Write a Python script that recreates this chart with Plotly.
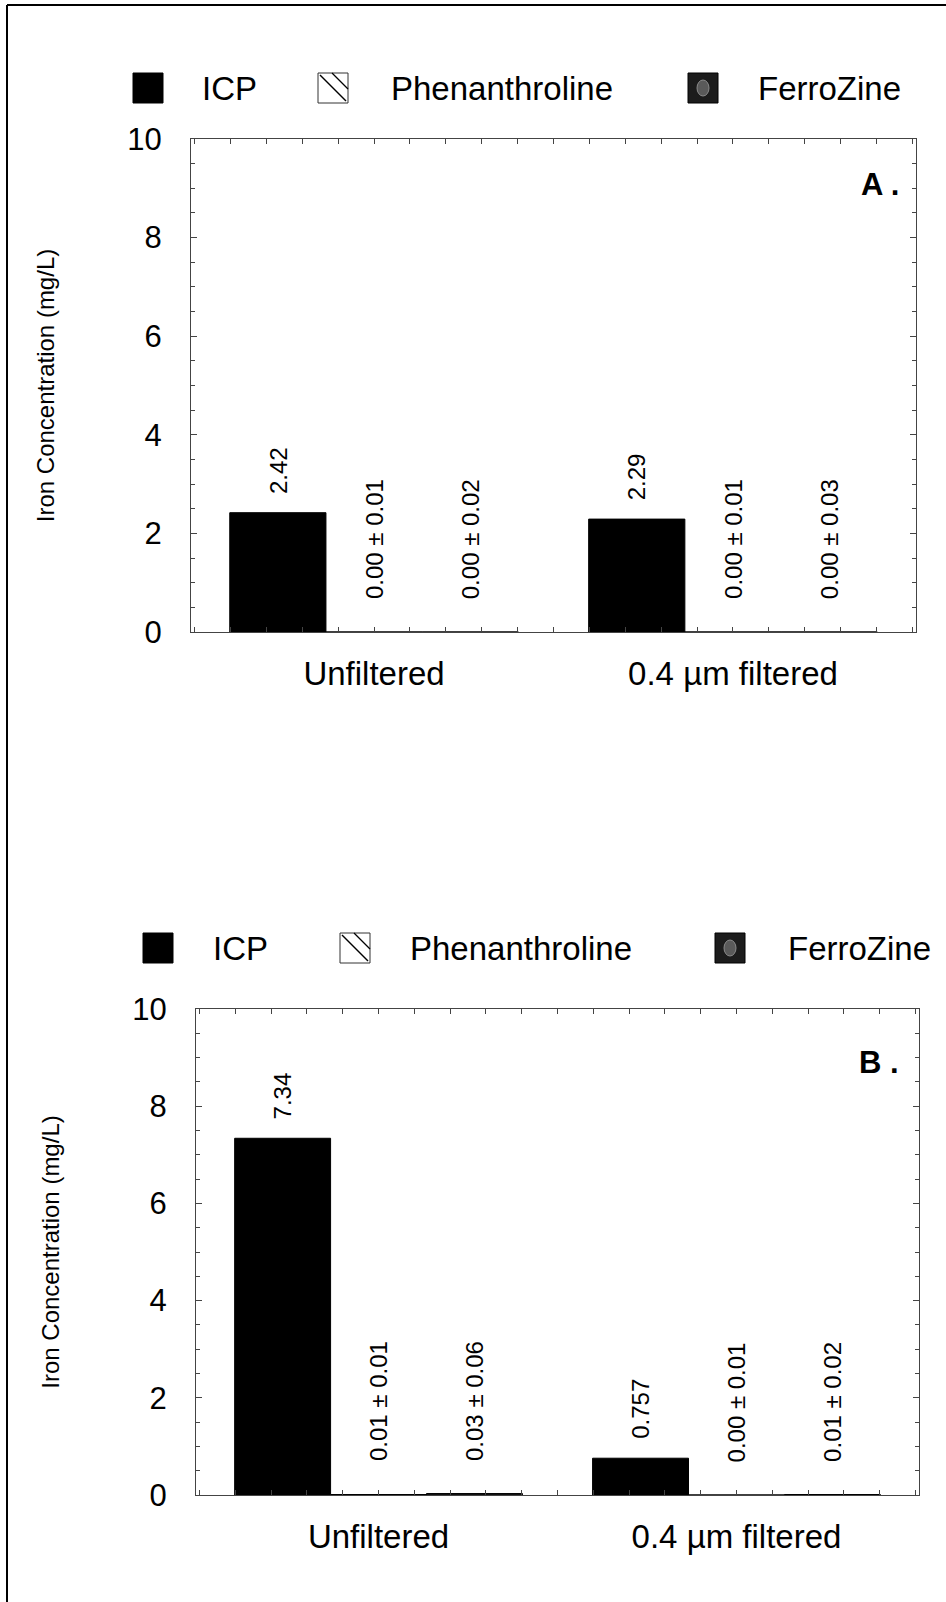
import plotly.graph_objects as go

# ---------------- data ----------------
categories = ["Unfiltered", "0.4 \u00b5m filtered"]
series_names = ["ICP", "Phenanthroline", "FerroZine"]

# Panel A
a_icp = [2.42, 2.29]
a_phen = [0.00, 0.00]
a_phen_sd = [0.01, 0.01]
a_ferro = [0.00, 0.00]
a_ferro_sd = [0.02, 0.03]

# Panel B
b_icp = [7.34, 0.757]
b_phen = [0.01, 0.00]
b_phen_sd = [0.01, 0.01]
b_ferro = [0.03, 0.01]
b_ferro_sd = [0.06, 0.02]

y_ticks = [0, 2, 4, 6, 8, 10]
panel_letters = ["A .", "B ."]

# ---------------- layout helpers ----------------
W, H = 946, 1602
FONT = "Liberation Sans, Arial, Helvetica, sans-serif"


def px(x):
    return x / W


def py(y):
    return 1 - y / H


BARGAP = 0.196
BW = (1 - BARGAP) / 3
positions = list(range(len(categories)))

styles = [
    dict(color="black", line=dict(color="black", width=1)),
    dict(color="white", line=dict(color="black", width=1),
         pattern=dict(shape="\\", fgcolor="black", bgcolor="white", size=10, solidity=0.15)),
    dict(color="#222222", line=dict(color="black", width=1),
         pattern=dict(shape=".", fgcolor="#777777", bgcolor="#222222", size=5, solidity=0.3)),
]

panels = [
    dict(vals=[a_icp, a_phen, a_ferro], sds=[None, a_phen_sd, a_ferro_sd],
         xdom=[px(191), px(916)], ydom=[py(632), py(139)],
         legend_y=88, legend_x=[(133, 200), (318, 389), (688, 756)],
         letter_xy=(901, 184)),
    dict(vals=[b_icp, b_phen, b_ferro], sds=[None, b_phen_sd, b_ferro_sd],
         xdom=[px(196), px(919)], ydom=[py(1495), py(1009)],
         legend_y=948, legend_x=[(143, 211), (340, 408), (715, 786)],
         letter_xy=(901, 1062)),
]

fig = go.Figure()
annotations = []
shapes = []

for p, panel in enumerate(panels):
    xa = "x" if p == 0 else "x2"
    ya = "y" if p == 0 else "y2"
    for j, name in enumerate(series_names):
        fig.add_trace(go.Bar(
            x=positions, y=panel["vals"][j], name=name,
            marker=styles[j], xaxis=xa, yaxis=ya, showlegend=False,
            offsetgroup=str(j),
        ))
        # value labels (rotated)
        for i, v in enumerate(panel["vals"][j]):
            if panel["sds"][j] is None:
                txt = str(v)
                shift = 17
            else:
                txt = f"{v:.2f} \u00b1 {panel['sds'][j][i]:.2f}"
                shift = 31
            annotations.append(dict(
                x=positions[i] + (j - 1) * BW, y=v, xref=xa, yref=ya,
                text=txt, textangle=-90, showarrow=False,
                xanchor="center", yanchor="bottom", yshift=shift,
                font=dict(family=FONT, size=24, color="black"),
            ))

    # panel letter
    lx, ly = panel["letter_xy"]
    annotations.append(dict(
        x=px(lx), y=py(ly), xref="paper", yref="paper", text=f"<b>{panel_letters[p]}</b>",
        showarrow=False, xanchor="right", yanchor="middle",
        font=dict(family=FONT, size=31, color="black"),
    ))

    # manual legend (large square swatches like the original)
    ly = panel["legend_y"]
    for j, name in enumerate(series_names):
        sx, tx = panel["legend_x"][j]
        x0, x1 = px(sx), px(sx + 30)
        y0, y1 = py(ly + 15), py(ly - 15)
        if j == 0:
            shapes.append(dict(type="rect", xref="paper", yref="paper", x0=x0, x1=x1, y0=y0, y1=y1,
                               fillcolor="black", line=dict(color="black", width=1)))
        elif j == 1:
            shapes.append(dict(type="rect", xref="paper", yref="paper", x0=x0, x1=x1, y0=y0, y1=y1,
                               fillcolor="white", line=dict(color="#333333", width=1)))
            shapes.append(dict(type="line", xref="paper", yref="paper",
                               x0=px(sx + 2), y0=py(ly - 13), x1=px(sx + 28), y1=py(ly + 13),
                               line=dict(color="black", width=1.5)))
            shapes.append(dict(type="line", xref="paper", yref="paper",
                               x0=px(sx + 14), y0=py(ly - 15), x1=px(sx + 30), y1=py(ly + 1),
                               line=dict(color="black", width=1.2)))
        else:
            shapes.append(dict(type="rect", xref="paper", yref="paper", x0=x0, x1=x1, y0=y0, y1=y1,
                               fillcolor="#1c1c1c", line=dict(color="black", width=1)))
            shapes.append(dict(type="circle", xref="paper", yref="paper",
                               x0=px(sx + 9), x1=px(sx + 21), y0=py(ly + 8), y1=py(ly - 8),
                               fillcolor="#5a5a5a", line=dict(color="#8a8a8a", width=1)))
        annotations.append(dict(
            x=px(tx), y=py(ly), xref="paper", yref="paper", text=name, showarrow=False,
            xanchor="left", yanchor="middle",
            font=dict(family=FONT, size=33, color="black"),
        ))

# outer frame of the figure
shapes.append(dict(type="line", xref="paper", yref="paper", x0=px(7), x1=px(7), y0=py(5), y1=py(H + 5),
                   line=dict(color="black", width=2)))
shapes.append(dict(type="line", xref="paper", yref="paper", x0=px(7), x1=px(W + 5), y0=py(5), y1=py(5),
                   line=dict(color="black", width=2)))

axis_line = dict(showline=True, linecolor="#444444", linewidth=1, mirror="ticks",
                 showgrid=False, zeroline=False)

xaxis_common = dict(
    type="linear", range=[-0.51, 1.51], tickmode="array", tickvals=positions, ticktext=categories,
    ticks="inside", ticklen=5, tickcolor="#444444", ticklabelstandoff=12,
    minor=dict(dtick=0.1, tick0=0, ticks="inside", ticklen=5, tickcolor="#444444", showgrid=False),
    tickfont=dict(family=FONT, size=33, color="black"), automargin=False, **axis_line,
)
yaxis_common = dict(
    range=[0, 10], tickmode="array", tickvals=y_ticks, ticks="inside", ticklen=6, tickcolor="#444444",
    ticklabelstandoff=22,
    minor=dict(dtick=0.5, tick0=0, ticks="inside", ticklen=4, tickcolor="#444444", showgrid=False),
    tickfont=dict(family=FONT, size=31, color="black"), automargin=False,
    title=dict(text="Iron Concentration (mg/L)", font=dict(family=FONT, size=24, color="black"), standoff=65),
    **axis_line,
)

fig.update_layout(
    width=W, height=H,
    margin=dict(l=0, r=0, t=0, b=0),
    paper_bgcolor="white", plot_bgcolor="white",
    barmode="group", bargap=BARGAP, bargroupgap=0,
    showlegend=False,
    xaxis=dict(domain=panels[0]["xdom"], anchor="y", **xaxis_common),
    yaxis=dict(domain=panels[0]["ydom"], anchor="x", **yaxis_common),
    xaxis2=dict(domain=panels[1]["xdom"], anchor="y2", **xaxis_common),
    yaxis2=dict(domain=panels[1]["ydom"], anchor="x2", **yaxis_common),
    annotations=annotations,
    shapes=shapes,
    font=dict(family=FONT, color="black"),
)

fig.write_html("out.html", config={"displayModeBar": False})
